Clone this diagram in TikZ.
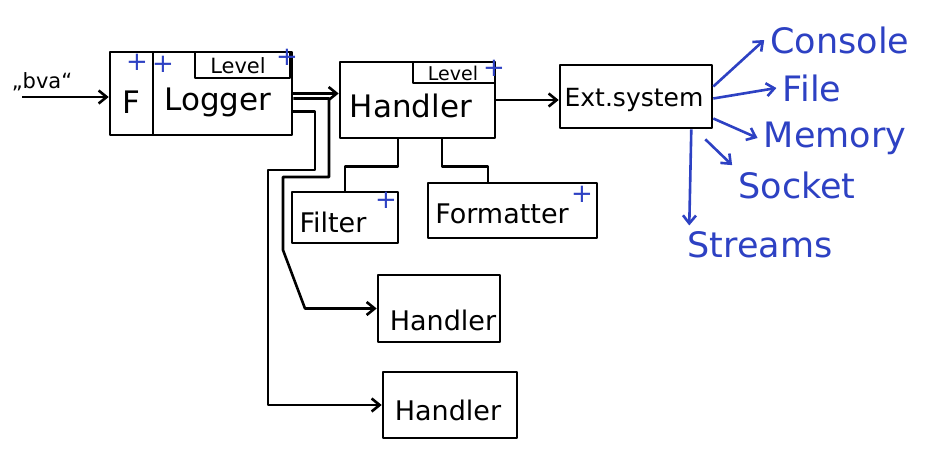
\documentclass[tikz,border=0pt]{standalone}
\usepackage{fontspec}
\setmainfont{DejaVu Sans}
\usetikzlibrary{arrows.meta}
\definecolor{penblue}{RGB}{45,65,195}

\begin{document}
\begin{tikzpicture}[x=1pt,y=-1pt,line width=2.6pt,line join=round,
  >={Straight Barb[length=8pt,width=13pt]},
  box/.style={draw,inner sep=0pt},
  lbl/.style={inner sep=0pt,font=\fontsize{31}{34}\selectfont},
  mid/.style={inner sep=0pt,font=\fontsize{27}{30}\selectfont},
  small/.style={inner sep=0pt,font=\fontsize{21}{24}\selectfont},
  ext/.style={text=penblue,inner sep=5pt,font=\fontsize{35}{38}\selectfont},
  plus/.style={text=penblue,inner sep=0pt,font=\fontsize{26}{26}\selectfont}]
\useasboundingbox (0,0) rectangle (931,463);

\node[box,minimum width=43pt,minimum height=83pt]  (F)            at (131.5,93.5) {};
\node[box,minimum width=139pt,minimum height=83pt] (Logger)       at (222.5,93.5) {};
\node[box,minimum width=95pt,minimum height=26pt]  (LoggerLevel)  at (242.5,65) {};
\node[box,minimum width=155pt,minimum height=76pt] (Handler)      at (417.5,100) {};
\node[box,minimum width=82pt,minimum height=21pt]  (HandlerLevel) at (454,72.5) {};
\node[box,minimum width=152pt,minimum height=63pt] (Ext)          at (636,96.5) {};
\node[box,minimum width=106pt,minimum height=51pt] (Filter)       at (345,217.5) {};
\node[box,minimum width=169pt,minimum height=55pt] (Formatter)    at (512.5,210.5) {};
\node[box,minimum width=122pt,minimum height=67pt] (HandlerB)     at (439,308.5) {};
\node[box,minimum width=134pt,minimum height=66pt] (HandlerC)     at (450,405) {};

\node[lbl]   (tF)         at (131,102) {F};
\node[lbl]   (tLogger)    at (218,102) {Logger};
\node[small] (tLevelA)    at (238,66) {Level};
\node[lbl]   (tHandler)   at (411,106) {Handler};
\node[small,font=\fontsize{19}{22}\selectfont] (tLevelB) at (453,73) {Level};
\node[mid,font=\fontsize{25}{28}\selectfont] (tExt) at (634,100) {Ext.system};
\node[mid]   (tFilter)    at (333,222) {Filter};
\node[mid]   (tFormatter) at (502,214) {Formatter};
\node[mid]   (tHandlerB)  at (443,320) {Handler};
\node[mid]   (tHandlerC)  at (448,410) {Handler};
\node[small] (tInput)     at (42,82) {„bva“};

\node[ext] (Console) at (840,40) {Console};
\node[ext] (File)    at (812,88) {File};
\node[ext] (Memory)  at (835,138) {Memory};
\node[ext] (Socket)  at (797,185) {Socket};
\node[ext] (Streams) at (760,245) {Streams};

\node[plus] (pF)         at (137,62) {+};
\node[plus] (pLogger)    at (163,64) {+};
\node[plus] (pLevelA)    at (287,57) {+};
\node[plus] (pLevelB)    at (494,68) {+};
\node[plus] (pFilter)    at (386,200) {+};
\node[plus] (pFormatter) at (582,194) {+};

% logger side
\coordinate (input) at (22,97);
\draw[->] (input) -- (input -| F.west);
\draw[->] (Logger.east) -- (Logger.east -| Handler.west);
\draw[->] ([yshift=-5pt]Logger.east) -| (329,177) -| (283,250) -- (305,308.5) -- (HandlerB.west);
\draw[->] ([yshift=-18pt]Logger.east) -| (315,170) -| (268,405) -- (HandlerC.west);

% handler side
\draw ([xshift=-19.5pt]Handler.south) -- ++(0,27) -| (Filter.north);
\draw ([xshift=24.5pt]Handler.south) -- ++(0,27) -| ([xshift=-24.5pt]Formatter.north);
\draw[->] (Handler.east) -- (Handler.east -| Ext.west);

% targets
\draw[->,penblue] ([yshift=10pt]Ext.east) -- (Console.west);
\draw[->,penblue] ([yshift=-2pt]Ext.east) -- (File.west);
\draw[->,penblue] ([yshift=-22pt]Ext.east) -- (Memory.west);
\draw[->,penblue] ([xshift=-8pt,yshift=-10pt]Ext.south east) -- (Socket.north west);
\draw[->,penblue] ([xshift=-22pt]Ext.south east) -- ([xshift=8pt]Streams.north west);
\end{tikzpicture}
\end{document}
